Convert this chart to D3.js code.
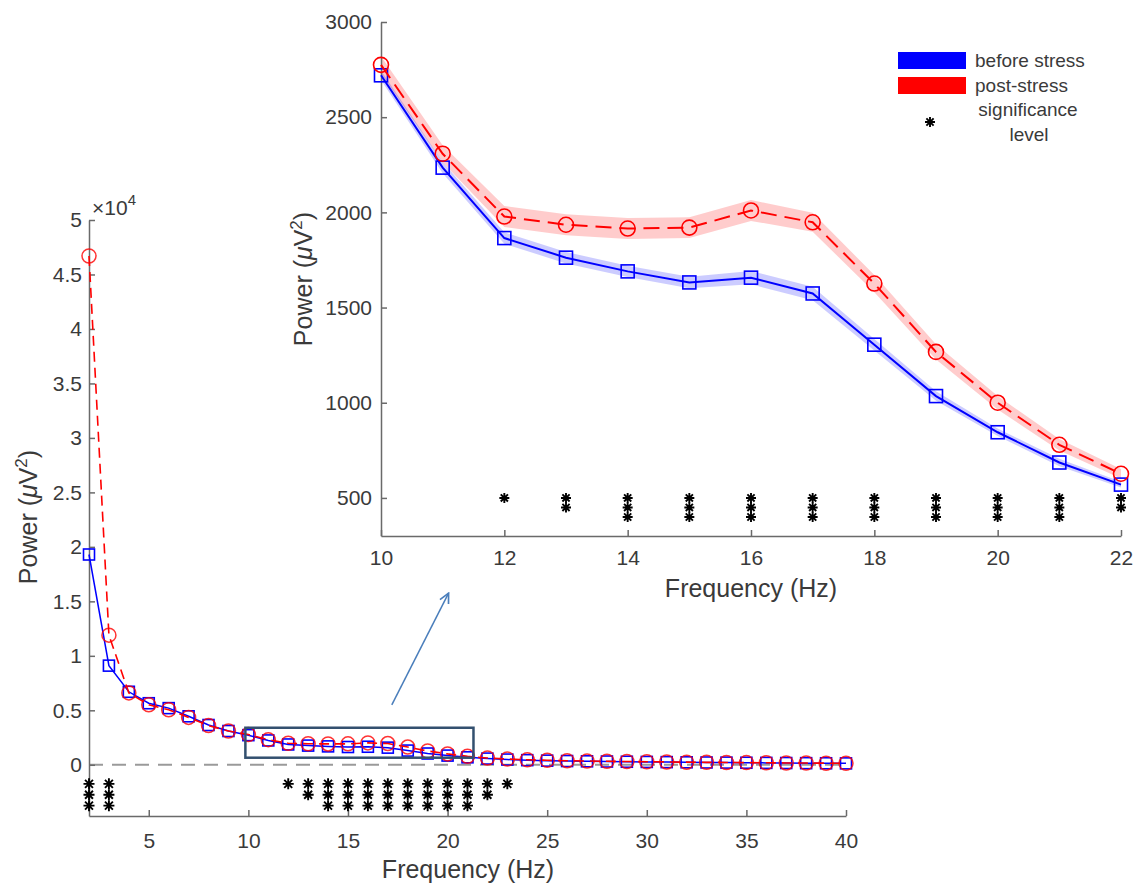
<!DOCTYPE html>
<html>
<head>
<meta charset="utf-8">
<script src="https://cdn.jsdelivr.net/npm/d3@7"></script>
<style>
  body { margin: 0; background: #fff; }
</style>
</head>
<body>
<svg id="chart"></svg>
<script>
const W = 1137, H = 885;
const FONT = '"Liberation Sans", Arial, Helvetica, sans-serif';
const AXIS = '#6a6a6a';
const TEXT = '#3a3a3a';
const BLUE = '#0000ff';
const RED = '#ff0000';

// frequency bins (Hz)
const freqs = [2, 3, 4, 5, 6, 7, 8, 9, 10, 11, 12, 13, 14, 15, 16, 17, 18, 19, 20, 21,
               22, 23, 24, 25, 26, 27, 28, 29, 30, 31, 32, 33, 34, 35, 36, 37, 38, 39, 40];
// mean power (uV^2)
const beforeStress = [19300, 9100, 6700, 5650, 5200, 4450, 3650, 3100, 2720, 2235,
                      1865, 1762, 1690, 1632, 1657, 1574, 1305, 1035, 845, 686,
                      570, 480, 425, 380, 345, 320, 300, 280, 262, 245,
                      228, 212, 200, 188, 175, 162, 150, 140, 130];
const postStress = [46700, 11900, 6600, 5500, 5050, 4350, 3600, 3100, 2775, 2308,
                    1978, 1935, 1915, 1920, 2010, 1948, 1626, 1267, 1000, 779,
                    627, 530, 465, 420, 375, 345, 322, 302, 283, 262,
                    242, 225, 212, 200, 185, 170, 158, 147, 137];
// number of significance stars per bin
const sigLevel = [3, 3, 0, 0, 0, 0, 0, 0, 0, 0,
                  1, 2, 3, 3, 3, 3, 3, 3, 3, 3,
                  2, 1, 0, 0, 0, 0, 0, 0, 0, 0,
                  0, 0, 0, 0, 0, 0, 0, 0, 0];

// inset (10-22 Hz) shaded error
const insetFreqs = [10, 11, 12, 13, 14, 15, 16, 17, 18, 19, 20, 21, 22];
const beforeErr = [25, 30, 30, 30, 30, 30, 35, 35, 30, 25, 20, 20, 15];
const postErr = [45, 45, 55, 55, 55, 55, 55, 50, 45, 40, 35, 30, 25];

// ticks
const mainXTicks = [5, 10, 15, 20, 25, 30, 35, 40];
const mainYTicks = [0, 5000, 10000, 15000, 20000, 25000, 30000, 35000, 40000, 45000, 50000];
const insetXTicks = [10, 12, 14, 16, 18, 20, 22];
const insetYTicks = [500, 1000, 1500, 2000, 2500, 3000];

// star rows (data units) in each panel
const mainStarRows = [-1750, -2750, -3750];
const insetStarRows = [500, 450, 400];

// annotation: zoom box [x0, x1, y0, y1] and arrow, in main-plot units
const zoomBox = [9.85, 21.3, 650, 3400];
const arrowFrom = [17.2, 5500];
const arrowTo = [20.05, 15750];

const svg = d3.select('#chart').attr('width', W).attr('height', H)
    .style('font-family', FONT);

const xMain = d3.scaleLinear([2, 40], [89, 846]);
const yMain = d3.scaleLinear([-4700, 50000], [816, 220]);
const xIn = d3.scaleLinear([10, 22], [381, 1121]);
const yIn = d3.scaleLinear([300, 3000], [536, 22]);

const rows = freqs.map((f, i) => ({f: f, b: beforeStress[i], p: postStress[i], s: sigLevel[i]}));
const insetRows = insetFreqs.map((f, i) => {
  let r = rows.find(d => d.f === f);
  return {f: f, b: r.b, p: r.p, s: r.s, be: beforeErr[i], pe: postErr[i]};
});

function styleAxis(g, size) {
  g.attr('font-family', FONT).attr('font-size', size);
  g.select('.domain').attr('stroke', AXIS).attr('stroke-width', 1.5);
  g.selectAll('.tick line').attr('stroke', AXIS).attr('stroke-width', 1.5);
  g.selectAll('.tick text').attr('fill', TEXT);
}

function starPath(s) {
  let a = s * 0.72;
  return `M${-s},0L${s},0M0,${-s}L0,${s}M${-a},${-a}L${a},${a}M${-a},${a}L${a},${-a}`;
}

function drawStars(g, data, x, y, starRows, size) {
  data.forEach(d => {
    for (let k = 0; k < d.s; k++) {
      g.append('path')
        .attr('d', starPath(size))
        .attr('transform', `translate(${x(d.f)},${y(starRows[k])})`)
        .attr('stroke', '#000')
        .attr('stroke-width', 1.9)
        .attr('fill', 'none');
    }
  });
}

function powerLabel(t) {
  t.append('tspan').text('Power (');
  t.append('tspan').attr('font-style', 'italic').text('\u03bc');
  t.append('tspan').text('V');
  t.append('tspan').attr('dy', -10).attr('font-size', 17).text('2');
  t.append('tspan').attr('dy', 10).text(')');
}

// ---------- main plot ----------
const main = svg.append('g').attr('id', 'main');

main.append('line')
    .attr('x1', xMain(2)).attr('x2', xMain(40))
    .attr('y1', yMain(0)).attr('y2', yMain(0))
    .attr('stroke', '#9a9a9a')
    .attr('stroke-width', 2)
    .attr('stroke-dasharray', '14,9');

main.append('g')
    .attr('transform', `translate(0,${yMain(-4700)})`)
    .call(d3.axisBottom(xMain).tickValues(mainXTicks).tickSizeInner(-6).tickSizeOuter(0).tickPadding(17))
    .call(g => styleAxis(g, 21));

main.append('g')
    .attr('transform', `translate(${xMain(2)},0)`)
    .call(d3.axisLeft(yMain).tickValues(mainYTicks).tickFormat(d => d / 1e4)
      .tickSizeInner(-6).tickSizeOuter(0).tickPadding(7))
    .call(g => styleAxis(g, 21));

main.append('text')
    .attr('x', 92).attr('y', 215)
    .attr('fill', TEXT).attr('font-size', 21)
    .call(t => {
      t.append('tspan').text('\u00d710');
      t.append('tspan').attr('dy', -10).attr('font-size', 15).text('4');
    });

let lineB = d3.line().x(d => xMain(d.f)).y(d => yMain(d.b));
let lineP = d3.line().x(d => xMain(d.f)).y(d => yMain(d.p));

main.append('path').datum(rows)
    .attr('d', lineB).attr('fill', 'none')
    .attr('stroke', BLUE).attr('stroke-width', 1.5);

main.selectAll('rect.sq').data(rows).enter().append('rect')
    .attr('class', 'sq')
    .attr('x', d => xMain(d.f) - 5.5).attr('y', d => yMain(d.b) - 5.5)
    .attr('width', 11).attr('height', 11)
    .attr('fill', 'none').attr('stroke', BLUE).attr('stroke-width', 1.6);

main.append('path').datum(rows)
    .attr('d', lineP).attr('fill', 'none')
    .attr('stroke', RED).attr('stroke-width', 1.6)
    .attr('stroke-dasharray', '10,6');

main.selectAll('circle.ci').data(rows).enter().append('circle')
    .attr('class', 'ci')
    .attr('cx', d => xMain(d.f)).attr('cy', d => yMain(d.p)).attr('r', 7)
    .attr('fill', 'none').attr('stroke', RED).attr('stroke-width', 1.5)
    .attr('stroke-opacity', 0.8);

drawStars(main, rows, xMain, yMain, mainStarRows, 5.5);

main.append('text')
    .attr('transform', `translate(37,517) rotate(-90)`)
    .attr('text-anchor', 'middle')
    .attr('fill', TEXT).attr('font-size', 25)
    .call(powerLabel);

main.append('text')
    .attr('x', 468).attr('y', 878)
    .attr('text-anchor', 'middle')
    .attr('fill', TEXT).attr('font-size', 25)
    .text('Frequency (Hz)');

// zoom box + arrow
main.append('rect')
    .attr('x', xMain(zoomBox[0])).attr('y', yMain(zoomBox[3]))
    .attr('width', xMain(zoomBox[1]) - xMain(zoomBox[0]))
    .attr('height', yMain(zoomBox[2]) - yMain(zoomBox[3]))
    .attr('fill', 'none').attr('stroke', '#33506f').attr('stroke-width', 2.5);

svg.append('defs').append('marker')
    .attr('id', 'arrowHead')
    .attr('viewBox', '0 0 10 10')
    .attr('refX', 9).attr('refY', 5)
    .attr('markerWidth', 8).attr('markerHeight', 8)
    .attr('orient', 'auto')
    .append('path')
      .attr('d', 'M1,1L9,5L1,9')
      .attr('fill', 'none').attr('stroke', '#4a7ebb').attr('stroke-width', 1.4);

main.append('line')
    .attr('x1', xMain(arrowFrom[0])).attr('y1', yMain(arrowFrom[1]))
    .attr('x2', xMain(arrowTo[0])).attr('y2', yMain(arrowTo[1]))
    .attr('stroke', '#4a7ebb').attr('stroke-width', 1.5)
    .attr('marker-end', 'url(#arrowHead)');

// ---------- inset ----------
const inset = svg.append('g').attr('id', 'inset');

inset.append('path').datum(insetRows)
    .attr('d', d3.area().x(d => xIn(d.f)).y0(d => yIn(d.p - d.pe)).y1(d => yIn(d.p + d.pe)))
    .attr('fill', RED).attr('fill-opacity', 0.2);

inset.append('path').datum(insetRows)
    .attr('d', d3.area().x(d => xIn(d.f)).y0(d => yIn(d.b - d.be)).y1(d => yIn(d.b + d.be)))
    .attr('fill', BLUE).attr('fill-opacity', 0.2);

inset.append('g')
    .attr('transform', `translate(0,${yIn(300)})`)
    .call(d3.axisBottom(xIn).tickValues(insetXTicks).tickSizeInner(-6).tickSizeOuter(0).tickPadding(14))
    .call(g => styleAxis(g, 21));

inset.append('g')
    .attr('transform', `translate(${xIn(10)},0)`)
    .call(d3.axisLeft(yIn).tickValues(insetYTicks).tickFormat(d3.format('d'))
      .tickSizeInner(-6).tickSizeOuter(0).tickPadding(9))
    .call(g => styleAxis(g, 21));

inset.append('path').datum(insetRows)
    .attr('d', d3.line().x(d => xIn(d.f)).y(d => yIn(d.b)))
    .attr('fill', 'none').attr('stroke', BLUE).attr('stroke-width', 2);

inset.selectAll('rect.sq').data(insetRows).enter().append('rect')
    .attr('class', 'sq')
    .attr('x', d => xIn(d.f) - 6.5).attr('y', d => yIn(d.b) - 6.5)
    .attr('width', 13).attr('height', 13)
    .attr('fill', 'none').attr('stroke', BLUE).attr('stroke-width', 1.6);

inset.append('path').datum(insetRows)
    .attr('d', d3.line().x(d => xIn(d.f)).y(d => yIn(d.p)))
    .attr('fill', 'none').attr('stroke', RED).attr('stroke-width', 2)
    .attr('stroke-dasharray', '16,8');

inset.selectAll('circle.ci').data(insetRows).enter().append('circle')
    .attr('class', 'ci')
    .attr('cx', d => xIn(d.f)).attr('cy', d => yIn(d.p)).attr('r', 7.5)
    .attr('fill', 'none').attr('stroke', RED).attr('stroke-width', 1.6);

drawStars(inset, insetRows, xIn, yIn, insetStarRows, 5);

inset.append('text')
    .attr('transform', `translate(312,279) rotate(-90)`)
    .attr('text-anchor', 'middle')
    .attr('fill', TEXT).attr('font-size', 25)
    .call(powerLabel);

inset.append('text')
    .attr('x', 751).attr('y', 597)
    .attr('text-anchor', 'middle')
    .attr('fill', TEXT).attr('font-size', 25)
    .text('Frequency (Hz)');

// ---------- legend ----------
const legend = svg.append('g').attr('id', 'legend').attr('font-size', 19).attr('fill', TEXT);
legend.append('rect').attr('x', 898).attr('y', 52).attr('width', 68).attr('height', 17).attr('fill', BLUE);
legend.append('rect').attr('x', 898).attr('y', 77).attr('width', 68).attr('height', 17).attr('fill', RED);
legend.append('text').attr('x', 975).attr('y', 67).text('before stress');
legend.append('text').attr('x', 975).attr('y', 92).text('post-stress');
legend.append('text').attr('x', 1028).attr('y', 116).attr('text-anchor', 'middle').text('significance');
legend.append('text').attr('x', 1029).attr('y', 141).attr('text-anchor', 'middle').text('level');
legend.append('path')
    .attr('d', starPath(5))
    .attr('transform', 'translate(930,122)')
    .attr('stroke', '#000').attr('stroke-width', 1.9).attr('fill', 'none');
</script>
</body>
</html>
